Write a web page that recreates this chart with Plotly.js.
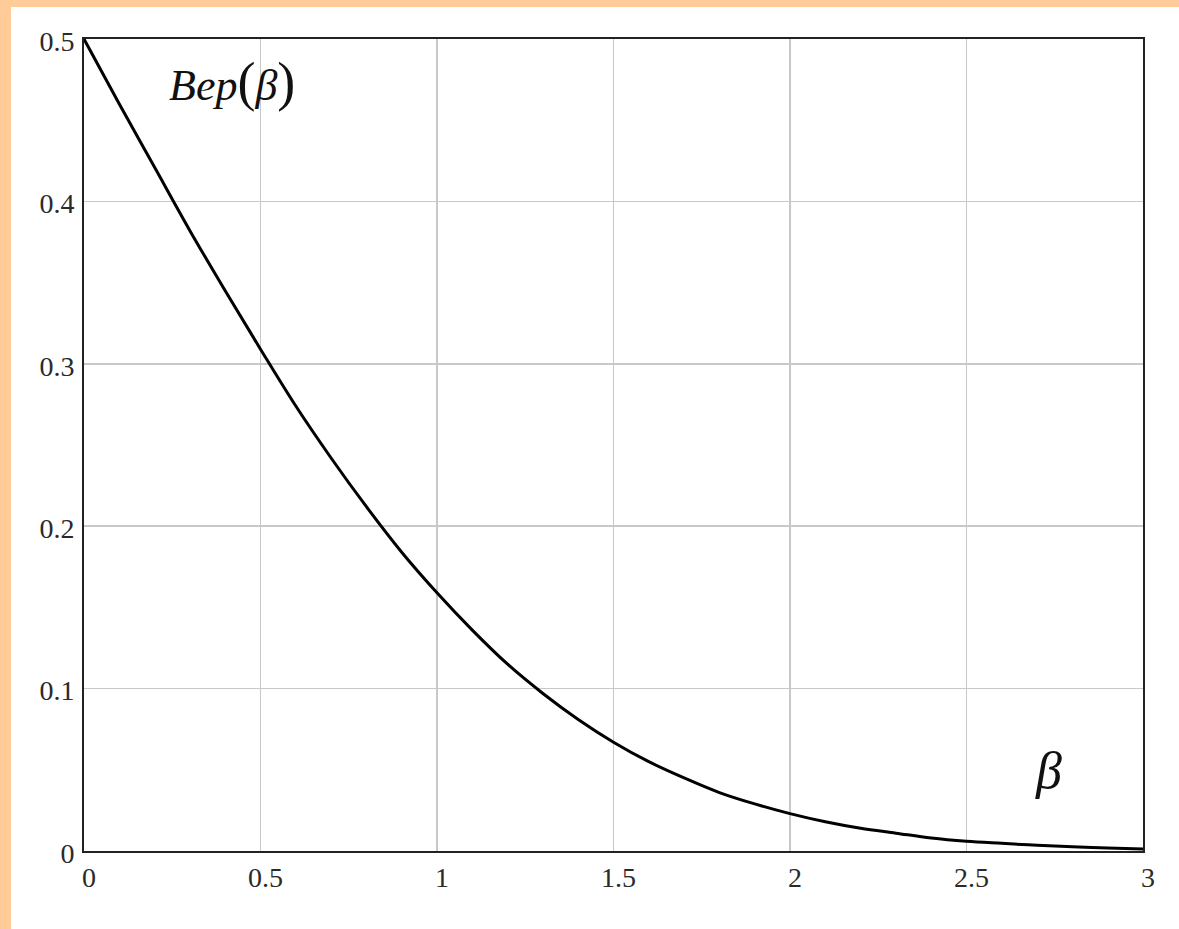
<!DOCTYPE html>
<html>
<head>
<meta charset="utf-8">
<script src="https://cdn.plot.ly/plotly-3.0.1.min.js"></script>
<style>
html,body{margin:0;padding:0;width:1179px;height:929px;background:#FFCC99;overflow:hidden;}
#chart{position:absolute;left:11px;top:7px;width:1168px;height:922px;background:#fff;}
</style>
</head>
<body>
<div id="chart"></div>
<script>
// beta values and probability values
const beta = [0,0.1,0.2,0.3,0.4,0.5,0.6,0.7,0.8,0.9,1.0,1.1,1.2,1.3,1.4,1.5,1.6,1.7,1.8,1.9,2.0,2.1,2.2,2.3,2.4,2.5,2.6,2.7,2.8,2.9,3.0];
const prob = [0.5,0.460,0.421,0.382,0.345,0.309,0.274,0.242,0.212,0.184,0.159,0.136,0.115,0.097,0.081,0.067,0.055,0.045,0.036,0.029,0.023,0.018,0.014,0.011,0.008,0.006,0.0047,0.0035,0.0026,0.0019,0.0013];
const xTicks = [0,0.5,1,1.5,2,2.5,3];
const xTickText = ['0','0.5','1','1.5','2','2.5','3'];
const yTicks = [0,0.1,0.2,0.3,0.4,0.5];
const yTickText = ['0','0.1','0.2','0.3','0.4','0.5'];
const funcLabel = '<i>Вер</i><span style="font-size:54px">(</span><i>β</i><span style="font-size:54px">)</span>';
const argLabel = '<i>β</i>';

const tickFont = {family:'"Liberation Serif", "Times New Roman", serif', size:28, color:'#2a2a2a'};
const trace = {x:beta, y:prob, mode:'lines', line:{color:'#000', width:3, shape:'spline'}, hoverinfo:'skip', showlegend:false};
const layout = {
  width:1168, height:922,
  margin:{l:73, r:36, t:32, b:78},
  paper_bgcolor:'#fff', plot_bgcolor:'#fff',
  xaxis:{range:[0,3], tickvals:xTicks, ticktext:xTickText, showgrid:true, gridcolor:'#c8c8c8', gridwidth:1.5,
    showline:true, linecolor:'#222', linewidth:2, mirror:true, zeroline:false, ticks:'', tickfont:tickFont, ticklabelshift:5, ticklabelstandoff:0},
  yaxis:{range:[0,0.5], tickvals:yTicks, ticktext:yTickText, showgrid:true, gridcolor:'#c8c8c8', gridwidth:1.5,
    showline:true, linecolor:'#222', linewidth:2, mirror:true, zeroline:false, ticks:'', tickfont:tickFont, ticklabelshift:2, ticklabelstandoff:2},
  annotations:[
    {xref:'paper', yref:'paper', x:(232-84)/1059, y:(851-82)/812, text:funcLabel, showarrow:false, xanchor:'center', yanchor:'middle',
     font:{family:'"Liberation Serif", "Times New Roman", serif', size:44, color:'#111'}},
    {xref:'paper', yref:'paper', x:(1048-84)/1059, y:(851-770)/812, text:argLabel, showarrow:false, xanchor:'center', yanchor:'middle',
     font:{family:'"Liberation Serif", "Times New Roman", serif', size:52, color:'#111'}}
  ]
};
Plotly.newPlot('chart', [trace], layout, {displayModeBar:false, staticPlot:true});
</script>
</body>
</html>
